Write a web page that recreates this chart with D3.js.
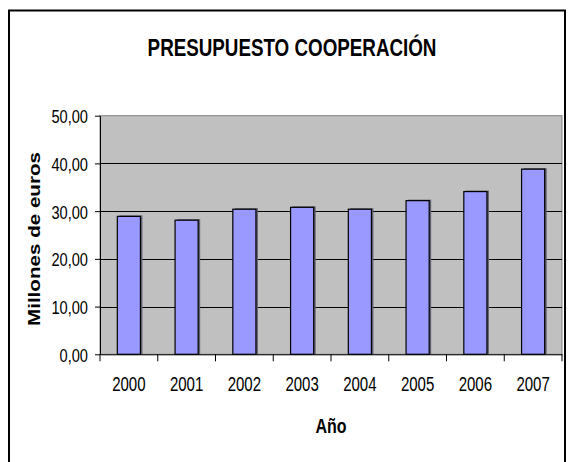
<!DOCTYPE html>
<html>
<head>
<meta charset="utf-8">
<script src="https://cdn.jsdelivr.net/npm/d3@7"></script>
<style>
  html, body { margin: 0; padding: 0; background: #fff; }
  svg { display: block; }
  text { font-family: "Liberation Sans", Arial, sans-serif; fill: #000; }
</style>
</head>
<body>
<svg id="chart" width="568" height="462"></svg>
<script>
const years = ["2000", "2001", "2002", "2003", "2004", "2005", "2006", "2007"];
const budget = [28.9, 28.1, 30.4, 30.8, 30.4, 32.2, 34.1, 38.8];
const yTickValues = [0, 10, 20, 30, 40, 50];
const titleText = "PRESUPUESTO COOPERACIÓN";
const xTitle = "Año";
const yTitle = "Millones de euros";

const svg = d3.select("#chart");
const plot = { left: 100, right: 562, top: 115.7, bottom: 354.3 };
const sx = 0.77;

// outer chart border
svg.append("rect").attr("x", 9).attr("y", 10.5).attr("width", 556).attr("height", 470)
  .attr("fill", "#fff").attr("stroke", "#000").attr("stroke-width", 2);

const y = d3.scaleLinear().domain([0, 50]).range([plot.bottom, plot.top]);
const xCat = d3.scaleBand().domain(years).range([plot.left, plot.right]).padding(0);
const xBar = d3.scaleBand().domain(years).range([plot.left, plot.right]).paddingInner(0.6).paddingOuter(0.3);

// plot background
svg.append("rect").attr("x", plot.left).attr("y", plot.top)
  .attr("width", plot.right - plot.left).attr("height", plot.bottom - plot.top)
  .attr("fill", "#c0c0c0").attr("stroke", "#808080").attr("stroke-width", 1);

// gridlines
svg.append("g").selectAll("line").data(yTickValues.filter(v => v > 0 && v < 50)).join("line")
  .attr("x1", plot.left).attr("x2", plot.right)
  .attr("y1", d => Math.round(y(d)) + 0.5).attr("y2", d => Math.round(y(d)) + 0.5)
  .attr("stroke", "#000").attr("stroke-width", 1);

// bars (shadow + bar)
const bars = svg.append("g");
bars.selectAll("rect.sh").data(years).join("rect").attr("class", "sh")
  .attr("x", d => xBar(d) + 2).attr("y", (d, i) => y(budget[i]) - 1)
  .attr("width", xBar.bandwidth()).attr("height", (d, i) => plot.bottom - y(budget[i]) + 1)
  .attr("fill", "#606070");
bars.selectAll("rect.b").data(years).join("rect").attr("class", "b")
  .attr("x", d => xBar(d)).attr("y", (d, i) => y(budget[i]))
  .attr("width", xBar.bandwidth()).attr("height", (d, i) => plot.bottom - y(budget[i]))
  .attr("fill", "#9999ff").attr("stroke", "#000").attr("stroke-width", 1.2);

// y axis
const yAxis = svg.append("g").attr("transform", `translate(${plot.left},0)`)
  .call(d3.axisLeft(y).tickValues(yTickValues).tickSize(5).tickSizeOuter(0)
    .tickFormat(d => d3.format(".2f")(d).replace(".", ",")));
yAxis.select(".domain").attr("stroke", "#000");
yAxis.selectAll(".tick line").attr("stroke", "#000");
yAxis.selectAll(".tick text")
  .attr("x", null).attr("dy", null)
  .attr("font-size", 19).attr("text-anchor", "end")
  .attr("transform", `translate(-12,7) scale(${sx},1)`);

// x axis
const xAxis = svg.append("g").attr("transform", `translate(0,${plot.bottom})`)
  .call(d3.axisBottom(xCat).tickSize(0).tickSizeOuter(0));
xAxis.select(".domain").attr("stroke", "#000");
xAxis.selectAll(".tick text")
  .attr("y", null).attr("dy", null)
  .attr("font-size", 19.5).attr("text-anchor", "middle")
  .attr("transform", `translate(0,37) scale(${sx},1)`);
// category boundary ticks
svg.append("g").selectAll("line").data(d3.range(years.length + 1)).join("line")
  .attr("x1", i => plot.left + i * xCat.step()).attr("x2", i => plot.left + i * xCat.step())
  .attr("y1", plot.bottom).attr("y2", plot.bottom + 7)
  .attr("stroke", "#000");

// title
svg.append("text").attr("text-anchor", "middle").attr("font-weight", "bold").attr("font-size", 23.5)
  .attr("transform", `translate(292,56) scale(0.8,1)`).text(titleText);

// x axis title
svg.append("text").attr("text-anchor", "middle").attr("font-weight", "bold").attr("font-size", 20)
  .attr("transform", `translate(331,433) scale(0.8,1)`).text(xTitle);

// y axis title
svg.append("text").attr("text-anchor", "middle").attr("font-weight", "bold").attr("font-size", 16.5)
  .attr("transform", `translate(40,239) rotate(-90) scale(1.25,1)`).text(yTitle);
</script>
</body>
</html>
